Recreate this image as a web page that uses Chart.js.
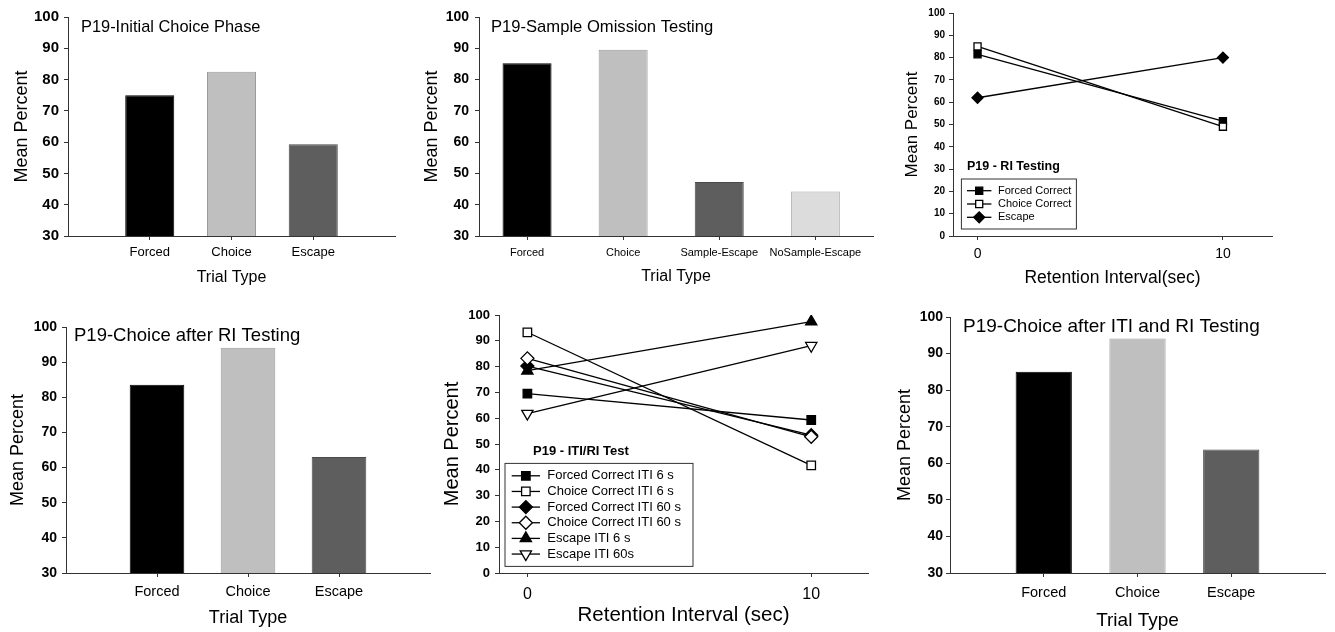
<!DOCTYPE html>
<html>
<head>
<meta charset="utf-8">
<script src="https://cdn.jsdelivr.net/npm/chart.js@4.4.1/dist/chart.umd.min.js"></script>
<style>
html, body { margin: 0; padding: 0; background: #fff; overflow: hidden; }
canvas { position: absolute; }
</style>
</head>
<body>
<canvas id="p1"></canvas>
<canvas id="p2"></canvas>
<canvas id="p3"></canvas>
<canvas id="p4"></canvas>
<canvas id="p5"></canvas>
<canvas id="p6"></canvas>
<script>
const FONT = '"Liberation Sans", Arial, sans-serif';

// bar panels
const trialTypes = ['Forced', 'Choice', 'Escape'];
const omissionTypes = ['Forced', 'Choice', 'Sample-Escape', 'NoSample-Escape'];
const initialChoice = [75, 82.5, 59.3];
const sampleOmission = [85.2, 89.5, 47.3, 44.2];
const choiceAfterRI = [83.6, 94.1, 63.0];
const choiceAfterItiRi = [85.0, 94.1, 63.8];

// line panels
const retention = [0, 10];
const retentionTicks = [0, 10];
const riForced = [81.5, 51.5];
const riChoice = [85, 49];
const riEscape = [62, 80];
const itiForced6 = [69.5, 59.3];
const itiChoice6 = [93.3, 41.7];
const itiForced60 = [80.2, 53.4];
const itiChoice60 = [83.2, 52.8];
const itiEscape6 = [78.4, 97.4];
const itiEscape60 = [61.8, 88.1];

const barColors = ['#000000', '#bfbfbf', '#5e5e5e', '#dcdcdc'];
const barBorders = ['#000000', '#9a9a9a', '#4a4a4a', '#a8a8a8'];

function setup(id, box) {
    const c = document.getElementById(id);
    c.width = box[2];
    c.height = box[3];
    c.style.left = box[0] + 'px';
    c.style.top = box[1] + 'px';
    return c;
}

const panelTitle = {
    id: 'panelTitle',
    afterDraw(chart, args, o) {
        if (!o.text) return;
        const ctx = chart.ctx, a = chart.chartArea;
        ctx.save();
        ctx.font = o.size + 'px ' + FONT;
        ctx.fillStyle = '#000';
        ctx.textBaseline = 'middle';
        ctx.fillText(o.text, a.left + o.left, a.top + o.top);
        ctx.restore();
    }
};

const boxLegend = {
    id: 'boxLegend',
    afterDraw(chart, args, o) {
        if (!o.title) return;
        const ctx = chart.ctx, a = chart.chartArea;
        const x = a.left + o.left;
        const top = a.bottom - o.bottom - o.height;
        ctx.save();
        ctx.strokeStyle = '#333';
        ctx.lineWidth = 1;
        ctx.strokeRect(x, top, o.width, o.height);
        ctx.fillStyle = '#000';
        ctx.textBaseline = 'middle';
        ctx.font = 'bold ' + o.titleSize + 'px ' + FONT;
        ctx.fillText(o.title, a.left + o.titleLeft, top - o.titleGap);
        ctx.font = o.size + 'px ' + FONT;
        chart.data.datasets.forEach((ds, i) => {
            const y = top + o.rowTop + i * o.rowGap;
            ctx.strokeStyle = '#000';
            ctx.lineWidth = ds.borderWidth;
            ctx.beginPath();
            ctx.moveTo(x + o.lineFrom, y);
            ctx.lineTo(x + o.lineTo, y);
            ctx.stroke();
            ctx.fillStyle = ds.pointBackgroundColor;
            ctx.strokeStyle = ds.pointBorderColor;
            ctx.lineWidth = ds.pointBorderWidth;
            Chart.helpers.drawPoint(ctx, {
                pointStyle: ds.pointStyle,
                rotation: ds.pointRotation || 0,
                radius: ds.pointRadius,
                borderWidth: ds.pointBorderWidth
            }, x + (o.lineFrom + o.lineTo) / 2, y);
            ctx.fillStyle = '#000';
            ctx.fillText(ds.label, x + o.textLeft, y);
        });
        ctx.restore();
    }
};

function axes(cfg) {
    return {
        x: {
            type: 'linear',
            min: cfg.xMin,
            max: cfg.xMax,
            offset: false,
            afterBuildTicks: s => { s.ticks = cfg.xTicks.map(v => ({value: v})); },
            ticks: {
                callback: cfg.xLabel,
                color: '#000',
                font: {family: FONT, size: cfg.xTickSize, weight: cfg.xTickWeight || 'normal'},
                padding: cfg.xTickPad,
                maxRotation: 0,
                autoSkip: false
            },
            grid: {offset: false, drawOnChartArea: false, tickLength: 4, color: '#333'},
            border: {color: '#333', width: 1},
            title: {
                display: true,
                text: cfg.xTitle,
                color: '#000',
                font: {family: FONT, size: cfg.xTitleSize},
                padding: {top: 0, bottom: cfg.xTitlePad}
            },
            afterFit: s => { s.height = cfg.xHeight; }
        },
        y: {
            min: cfg.yMin,
            max: 100,
            ticks: {
                stepSize: 10,
                color: '#000',
                font: {family: FONT, size: cfg.yTickSize, weight: 'bold'},
                padding: cfg.yTickPad
            },
            grid: {drawOnChartArea: false, tickLength: 4, color: '#333'},
            border: {color: '#333', width: 1},
            title: {
                display: true,
                text: 'Mean Percent',
                color: '#000',
                font: {family: FONT, size: cfg.yTitleSize},
                padding: {top: cfg.yTitlePad, bottom: 0}
            },
            afterFit: s => { s.width = cfg.yWidth; }
        }
    };
}

function barPanel(id, box, cats, values, cfg) {
    const canvas = setup(id, box);
    cfg.xTicks = cats.map((c, i) => i + 1);
    cfg.xLabel = v => cats[v - 1];
    cfg.yMin = 30;
    new Chart(canvas, {
        type: 'bar',
        data: {
            datasets: [{
                data: values.map((v, i) => ({x: i + 1, y: v})),
                backgroundColor: barColors.slice(0, values.length),
                borderColor: barBorders.slice(0, values.length),
                borderWidth: 1,
                categoryPercentage: 1,
                barPercentage: cfg.barPct
            }]
        },
        options: {
            responsive: false,
            animation: false,
            layout: {padding: cfg.pad},
            plugins: {legend: {display: false}, tooltip: {enabled: false}, panelTitle: cfg.title},
            scales: axes(cfg)
        },
        plugins: [panelTitle]
    });
}

function lineSet(label, values, style, filled, radius, rotation) {
    return {
        label: label,
        data: retention.map((r, i) => ({x: r, y: values[i]})),
        borderColor: '#000',
        borderWidth: 1.3,
        pointStyle: style,
        pointRotation: rotation || 0,
        pointRadius: radius,
        pointBackgroundColor: filled ? '#000' : '#fff',
        pointBorderColor: '#000',
        pointBorderWidth: 1.3,
        fill: false,
        tension: 0,
        // open markers sit on top of filled ones
        order: filled ? 1 : 0
    };
}

function linePanel(id, box, datasets, cfg) {
    const canvas = setup(id, box);
    cfg.xTicks = retentionTicks;
    cfg.xLabel = v => String(v);
    cfg.xMin = -1;
    cfg.xMax = 12;
    cfg.yMin = 0;
    new Chart(canvas, {
        type: 'line',
        data: {datasets: datasets},
        options: {
            responsive: false,
            animation: false,
            layout: {padding: cfg.pad},
            plugins: {legend: {display: false}, tooltip: {enabled: false}, boxLegend: cfg.legend},
            scales: axes(cfg)
        },
        plugins: [boxLegend]
    });
}

barPanel('p1', [0, 0, 440, 300], trialTypes, initialChoice, {
    pad: {left: 0, top: 17, right: 45, bottom: 0},
    yWidth: 68, xHeight: 64, xMin: 0, xMax: 4, barPct: 0.6,
    yTickSize: 15, yTickPad: 5, xTickSize: 13, xTickPad: 5,
    yTitleSize: 18, yTitlePad: 11, xTitle: 'Trial Type', xTitleSize: 16, xTitlePad: 13,
    title: {text: 'P19-Initial Choice Phase', size: 16.4, left: 13, top: 10}
});

barPanel('p2', [420, 0, 460, 300], omissionTypes, sampleOmission, {
    pad: {left: 0, top: 17, right: 7, bottom: 0},
    yWidth: 59, xHeight: 64, xMin: 0.5, xMax: 4.6, barPct: 0.51,
    yTickSize: 14, yTickPad: 6, xTickSize: 11, xTickPad: 6,
    yTitleSize: 18, yTitlePad: 1, xTitle: 'Trial Type', xTitleSize: 16, xTitlePad: 14,
    title: {text: 'P19-Sample Omission Testing', size: 16.6, left: 12, top: 10}
});

barPanel('p4', [0, 300, 440, 332], trialTypes, choiceAfterRI, {
    pad: {left: 0, top: 27, right: 10, bottom: 0},
    yWidth: 66, xHeight: 59, xMin: 0, xMax: 4, barPct: 0.6,
    yTickSize: 14, yTickPad: 5, xTickSize: 14.5, xTickPad: 6,
    yTitleSize: 18, yTitlePad: 7, xTitle: 'Trial Type', xTitleSize: 18, xTitlePad: 3,
    title: {text: 'P19-Choice after RI Testing', size: 18.5, left: 8, top: 9}
});

barPanel('p6', [880, 300, 455, 332], trialTypes, choiceAfterItiRi, {
    pad: {left: 0, top: 17, right: 10, bottom: 0},
    yWidth: 70, xHeight: 59, xMin: 0, xMax: 4, barPct: 0.6,
    yTickSize: 14, yTickPad: 3, xTickSize: 14.5, xTickPad: 7,
    yTitleSize: 18, yTitlePad: 14, xTitle: 'Trial Type', xTitleSize: 19, xTitlePad: 0,
    title: {text: 'P19-Choice after ITI and RI Testing', size: 19, left: 13, top: 9.5}
});

linePanel('p3', [890, 0, 445, 300], [
    lineSet('Forced Correct', riForced, 'rect', true, 5),
    lineSet('Choice Correct', riChoice, 'rect', false, 5),
    lineSet('Escape', riEscape, 'rectRot', true, 5.5)
], {
    pad: {left: 0, top: 13, right: 63, bottom: 0},
    yWidth: 63, xHeight: 64,
    yTickSize: 10, yTickPad: 4, xTickSize: 14, xTickPad: 6,
    yTitleSize: 17, yTitlePad: 12.5, xTitle: 'Retention Interval(sec)', xTitleSize: 17.5, xTitlePad: 11,
    legend: {
        title: 'P19 - RI Testing', titleSize: 12.5, titleLeft: 14, titleGap: 12,
        left: 8.4, bottom: 7, width: 115, height: 50, size: 11,
        rowTop: 11.7, rowGap: 13.3, lineFrom: 5.6, lineTo: 30, textLeft: 36.6
    }
});

linePanel('p5', [436, 300, 444, 332], [
    lineSet('Forced Correct ITI 6 s', itiForced6, 'rect', true, 6),
    lineSet('Choice Correct ITI 6 s', itiChoice6, 'rect', false, 6),
    lineSet('Forced Correct ITI 60 s', itiForced60, 'rectRot', true, 6.5),
    lineSet('Choice Correct ITI 60 s', itiChoice60, 'rectRot', false, 6.5),
    lineSet('Escape ITI 6 s', itiEscape6, 'triangle', true, 6.5),
    lineSet('Escape ITI 60s', itiEscape60, 'triangle', false, 6.5, 180)
], {
    pad: {left: 0, top: 15, right: 12, bottom: 0},
    yWidth: 63, xHeight: 59,
    yTickSize: 13, yTickPad: 5, xTickSize: 16, xTickPad: 8,
    yTitleSize: 20, yTitlePad: 4, xTitle: 'Retention Interval (sec)', xTitleSize: 20.5, xTitlePad: 4.7,
    legend: {
        title: 'P19 - ITI/RI Test', titleSize: 13, titleLeft: 34, titleGap: 11.6,
        left: 6, bottom: 6.6, width: 188, height: 103, size: 13,
        rowTop: 12.4, rowGap: 15.65, lineFrom: 6.7, lineTo: 35, textLeft: 42.3
    }
});
</script>
</body>
</html>
